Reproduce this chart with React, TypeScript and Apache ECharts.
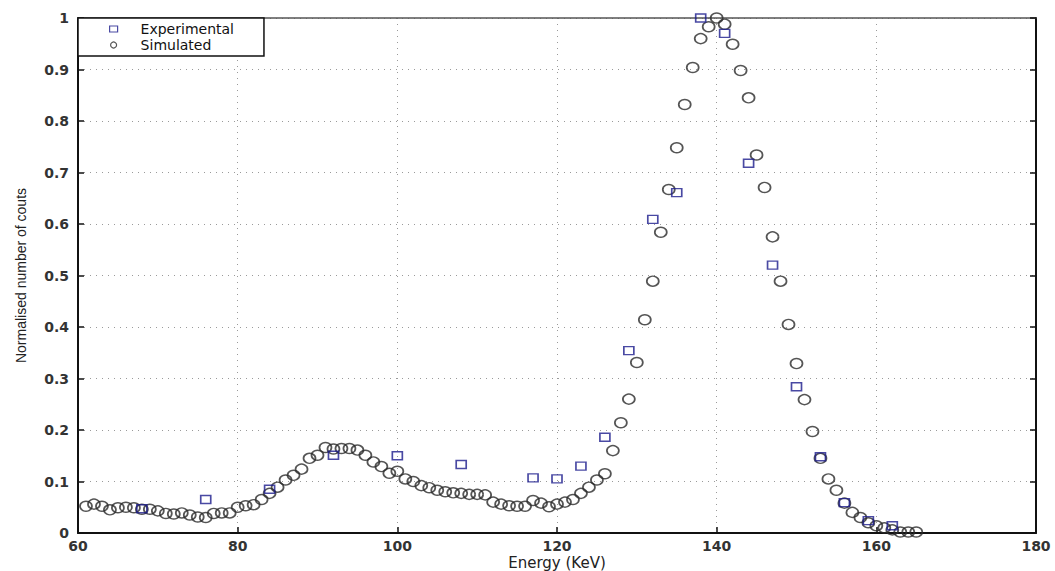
import React, { useEffect, useRef } from "react";
import * as echarts from "echarts";

const expEnergy = [68, 76, 84, 92, 100, 108, 117, 120, 123, 126, 129, 132, 135, 138, 141, 144, 147, 150, 153, 156, 159, 162];
const expCounts = [0.047, 0.065, 0.085, 0.151, 0.15, 0.133, 0.107, 0.105, 0.13, 0.186, 0.354, 0.609, 0.661, 1.0, 0.97, 0.718, 0.52, 0.284, 0.148, 0.059, 0.024, 0.014];

const simEnergy = [
  61, 62, 63, 64, 65, 66, 67, 68, 69, 70, 71, 72, 73, 74, 75, 76, 77, 78, 79, 80,
  81, 82, 83, 84, 85, 86, 87, 88, 89, 90, 91, 92, 93, 94, 95, 96, 97, 98, 99, 100,
  101, 102, 103, 104, 105, 106, 107, 108, 109, 110, 111, 112, 113, 114, 115, 116, 117, 118, 119, 120,
  121, 122, 123, 124, 125, 126, 127, 128, 129, 130, 131, 132, 133, 134, 135, 136, 137, 138, 139, 140,
  141, 142, 143, 144, 145, 146, 147, 148, 149, 150, 151, 152, 153, 154, 155, 156, 157, 158, 159, 160,
  161, 162, 163, 164, 165,
];
const simCounts = [
  0.052, 0.056, 0.052, 0.045, 0.049, 0.05, 0.049, 0.046, 0.046, 0.043, 0.038, 0.037, 0.039, 0.035, 0.031, 0.03, 0.038, 0.039, 0.039, 0.05,
  0.053, 0.055, 0.065, 0.077, 0.089, 0.103, 0.112, 0.124, 0.145, 0.151, 0.166, 0.163, 0.164, 0.164, 0.161, 0.151, 0.138, 0.129, 0.116, 0.12,
  0.105, 0.1, 0.092, 0.088, 0.083, 0.08, 0.078, 0.077, 0.075, 0.075, 0.074, 0.06, 0.056, 0.053, 0.052, 0.052, 0.063, 0.058, 0.051, 0.056,
  0.06, 0.065, 0.077, 0.089, 0.103, 0.115, 0.16, 0.214, 0.26, 0.331, 0.414, 0.489, 0.584, 0.667, 0.748, 0.832, 0.904, 0.96, 0.983, 1.0,
  0.988, 0.949, 0.898, 0.845, 0.734, 0.671, 0.575, 0.489, 0.405, 0.329, 0.259, 0.197, 0.145, 0.105, 0.083, 0.058, 0.04, 0.03, 0.02, 0.014,
  0.01, 0.006, 0.002, 0.002, 0.002,
];

const xTicks = { min: 60, max: 180, interval: 20 };
const yTicks = { min: 0, max: 1, interval: 0.1 };

const WIDE = "'DejaVu Sans', Verdana, sans-serif";
const PLAIN = "'Liberation Sans', Arial, Helvetica, sans-serif";

export default function App() {
  const ref = useRef<HTMLDivElement>(null);
  useEffect(() => {
    if (!ref.current) return;
    const chart = echarts.init(ref.current, undefined, { renderer: "svg" });
    const gridLine = { show: true, lineStyle: { color: "#9a9a9a", type: [1, 5], width: 1 } };
    chart.setOption({
      animation: false,
      backgroundColor: "#ffffff",
      grid: { left: 78, right: 19, top: 18, bottom: 38, containLabel: false, outerBoundsMode: "none" },
      legend: {
        left: 78,
        top: 18,
        orient: "vertical",
        backgroundColor: "#ffffff",
        borderColor: "#111",
        borderWidth: 1.5,
        borderRadius: 0,
        padding: [3, 30, 3, 31],
        itemGap: 0,
        itemWidth: 8,
        itemHeight: 6,
        itemStyle: { borderWidth: 1.2 },
        textStyle: { fontFamily: WIDE, fontSize: 14, lineHeight: 16, color: "#111", padding: [0, 0, 0, 18] },
        data: [
          { name: "Experimental", icon: "rect" },
          { name: "Simulated", icon: "circle" },
        ],
      },
      xAxis: [
        {
          type: "value",
          position: "bottom",
          min: xTicks.min,
          max: xTicks.max,
          interval: xTicks.interval,
          name: "Energy (KeV)",
          nameLocation: "middle",
          nameGap: 22,
          nameMoveOverlap: false,
          nameTextStyle: { fontFamily: WIDE, fontSize: 15, lineHeight: 15, color: "#222", verticalAlign: "top" },
          axisLine: { show: true, onZero: false, lineStyle: { color: "#111", width: 2 } },
          axisTick: { show: true, inside: true, length: 6, lineStyle: { color: "#111", width: 1.5 } },
          axisLabel: { fontFamily: WIDE, fontSize: 14, fontWeight: "bold", color: "#333", margin: 6 },
          splitLine: gridLine,
        },
        {
          type: "value",
          position: "top",
          min: xTicks.min,
          max: xTicks.max,
          interval: xTicks.interval,
          axisLine: { show: true, onZero: false, lineStyle: { color: "#555", width: 1.5 } },
          axisTick: { show: false },
          axisLabel: { show: false },
          splitLine: { show: false },
        },
      ],
      yAxis: [
        {
          type: "value",
          position: "left",
          min: yTicks.min,
          max: yTicks.max,
          interval: yTicks.interval,
          name: "Normalised number of couts",
          nameLocation: "middle",
          nameGap: 50,
          nameMoveOverlap: false,
          nameTextStyle: { fontFamily: PLAIN, fontSize: 14, color: "#222" },
          axisLine: { show: true, onZero: false, lineStyle: { color: "#111", width: 2 } },
          axisTick: { show: true, inside: true, length: 6, lineStyle: { color: "#111", width: 1.5 } },
          axisLabel: {
            fontFamily: WIDE,
            fontSize: 14,
            fontWeight: "bold",
            color: "#333",
            margin: 9,
            formatter: (v: number) => (v === 0 ? "0" : v === 1 ? "1" : v.toFixed(1)),
          },
          splitLine: gridLine,
        },
        {
          type: "value",
          position: "right",
          min: yTicks.min,
          max: yTicks.max,
          interval: yTicks.interval,
          axisLine: { show: true, onZero: false, lineStyle: { color: "#111", width: 2 } },
          axisTick: { show: true, inside: true, length: 6, lineStyle: { color: "#111", width: 1.5 } },
          axisLabel: { show: false },
          splitLine: { show: false },
        },
      ],
      series: [
        {
          name: "Experimental",
          type: "scatter",
          xAxisIndex: 0,
          yAxisIndex: 0,
          symbol: "rect",
          symbolSize: [10, 8],
          z: 3,
          itemStyle: { color: "rgba(255,255,255,0)", borderColor: "#1c1c8c", borderWidth: 1.5 },
          data: expEnergy.map((e, i) => [e, expCounts[i]]),
        },
        {
          name: "Simulated",
          type: "scatter",
          xAxisIndex: 0,
          yAxisIndex: 0,
          symbol: "circle",
          symbolSize: [12, 10],
          z: 2,
          itemStyle: { color: "rgba(255,255,255,0)", borderColor: "#2a2a2a", borderWidth: 1.6 },
          data: simEnergy.map((e, i) => [e, simCounts[i]]),
        },
      ],
    });
    return () => chart.dispose();
  }, []);
  return <div ref={ref} style={{ width: 1055, height: 571, position: "absolute", left: 0, top: 0 }} />;
}
